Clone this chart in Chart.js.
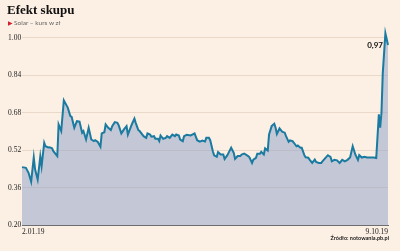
<!DOCTYPE html>
<html>
<head>
<meta charset="utf-8">
<script src="https://cdn.jsdelivr.net/npm/chart.js@4"></script>
<style>
  body { margin: 0; background: #fcefe4; }
  #wrap { position: relative; width: 400px; height: 251px; overflow: hidden; }
  #c { position: absolute; left: 0; top: 0; }
  .title { position: absolute; left: 7px; top: 2px; font: bold 13px "Liberation Serif", serif; color: #111; }
  .sub { position: absolute; left: 8px; top: 19px; font: 6.5px Lato, sans-serif; color: #666; }
  .sub span { color: #d3202c; font-size: 6px; margin-right: 1px; }
  .src { position: absolute; right: 11px; top: 235px; font: bold 5.5px Lato, sans-serif; color: #222; }
</style>
</head>
<body>
<div id="wrap">
  <canvas id="c" width="400" height="251"></canvas>
  <div class="title">Efekt skupu</div>
  <div class="sub"><span>&#9654;</span>Solar – kurs w zł</div>
  <div class="src">Źródło: notowania.pb.pl</div>
</div>
<script>
// days since 2.01.19, price in zł
const days = [
  0, 3, 5, 7, 9, 10, 12, 14, 15, 17, 18, 20, 21, 23, 24, 27, 28, 30, 32, 35,
  37, 38, 40, 42, 44, 46, 47, 49, 51, 53, 55, 56, 58, 60, 61, 63, 64, 66, 68, 69,
  71, 73, 74, 76, 78, 80, 81, 84, 86, 87, 89, 90, 93, 95, 96, 98, 99, 101, 102, 104,
  105, 106, 108, 110, 111, 113, 115, 117, 118, 120, 121, 123, 124, 126, 129, 131, 132, 134, 136, 138,
  140, 141, 143, 144, 146, 147, 149, 150, 152, 154, 155, 157, 158, 160, 162, 163, 165, 167, 168, 170,
  173, 174, 176, 177, 179, 180, 182, 183, 185, 186, 188, 189, 191, 193, 194, 195, 197, 199, 201, 202,
  204, 205, 207, 208, 210, 211, 213, 214, 216, 217, 219, 220, 222, 224, 225, 227, 229, 230, 234, 236,
  237, 239, 241, 243, 245, 247, 249, 251, 253, 255, 257, 258, 260, 262, 264, 266, 269, 271, 273, 274,
  275, 276, 278, 280
];
const price = [
  0.449, 0.446, 0.425, 0.387, 0.490, 0.440, 0.396, 0.495, 0.453, 0.553, 0.538, 0.533, 0.534, 0.529, 0.517, 0.496, 0.631, 0.603, 0.734, 0.703,
  0.667, 0.663, 0.617, 0.645, 0.643, 0.596, 0.603, 0.567, 0.617, 0.567, 0.560, 0.564, 0.556, 0.536, 0.593, 0.598, 0.631, 0.617, 0.607, 0.624,
  0.641, 0.638, 0.627, 0.593, 0.610, 0.624, 0.588, 0.631, 0.656, 0.638, 0.607, 0.603, 0.581, 0.574, 0.593, 0.588, 0.579, 0.581, 0.570, 0.570,
  0.560, 0.584, 0.570, 0.574, 0.581, 0.574, 0.588, 0.581, 0.588, 0.584, 0.567, 0.560, 0.581, 0.587, 0.584, 0.590, 0.593, 0.564, 0.558, 0.562,
  0.558, 0.574, 0.574, 0.564, 0.517, 0.499, 0.493, 0.513, 0.503, 0.503, 0.484, 0.499, 0.510, 0.532, 0.510, 0.484, 0.496, 0.496, 0.503, 0.507,
  0.496, 0.491, 0.467, 0.481, 0.489, 0.506, 0.506, 0.514, 0.503, 0.529, 0.520, 0.588, 0.624, 0.634, 0.617, 0.591, 0.614, 0.600, 0.596, 0.581,
  0.557, 0.563, 0.560, 0.553, 0.538, 0.541, 0.532, 0.532, 0.500, 0.491, 0.489, 0.481, 0.467, 0.481, 0.471, 0.467, 0.467, 0.475, 0.500, 0.493,
  0.474, 0.480, 0.478, 0.467, 0.480, 0.474, 0.480, 0.490, 0.538, 0.503, 0.480, 0.500, 0.490, 0.493, 0.490, 0.490, 0.490, 0.488, 0.674, 0.617,
  0.680, 0.850, 1.020, 0.970
];
const yTicks = [0.20, 0.36, 0.52, 0.68, 0.84, 1.00];
const xTickDays = [0, 280];
const xTickLabels = ["2.01.19", "9.10.19"];

const lastLabel = {
  id: "lastLabel",
  afterDatasetsDraw(chart) {
    const { ctx, scales } = chart;
    const i = price.length - 1;
    const x = scales.x.getPixelForValue(days[i]);
    const y = scales.y.getPixelForValue(price[i]);
    ctx.save();
    ctx.font = "bold 8px Lato, sans-serif";
    ctx.fillStyle = "#111";
    ctx.textAlign = "right";
    ctx.textBaseline = "middle";
    ctx.fillText(price[i].toFixed(2).replace(".", ","), x - 5, y);
    ctx.restore();
  },
};

new Chart(document.getElementById("c"), {
  type: "line",
  data: {
    datasets: [{
      data: days.map((d, i) => ({ x: d, y: price[i] })),
      borderColor: "#1a7aa0",
      borderWidth: 2,
      backgroundColor: "rgba(150,165,200,0.55)",
      fill: "start",
      pointRadius: 0,
      tension: 0,
      clip: false,
    }],
  },
  options: {
    responsive: false,
    animation: false,
    layout: { padding: { left: 8, right: 12, top: 28.6, bottom: 0 } },
    plugins: { legend: { display: false }, tooltip: { enabled: false } },
    scales: {
      x: {
        type: "linear",
        min: 0,
        max: 280,
        afterBuildTicks: axis => { axis.ticks = xTickDays.map(v => ({ value: v })); },
        afterFit: s => { s.height = 25.5; },
        ticks: {
          callback: (v, i) => xTickLabels[i],
          align: "inner",
          maxRotation: 0,
          autoSkip: false,
          padding: 2,
          color: "#222",
          font: { family: "Liberation Serif", size: 7.5 },
        },
        grid: { display: false, drawTicks: false },
        border: { display: true, color: "#6b6b6b", width: 1 },
      },
      y: {
        min: 0.2,
        max: 1.04,
        afterBuildTicks: axis => { axis.ticks = yTicks.map(v => ({ value: v })); },
        afterFit: s => { s.width = 14; },
        ticks: {
          callback: v => v.toFixed(2),
          crossAlign: "far",
          padding: 0,
          color: "#222",
          font: { family: "Liberation Serif", size: 7.5 },
        },
        grid: { color: "#ead8c8", drawTicks: false },
        border: { display: false },
      },
    },
  },
  plugins: [lastLabel],
});
</script>
</body>
</html>
